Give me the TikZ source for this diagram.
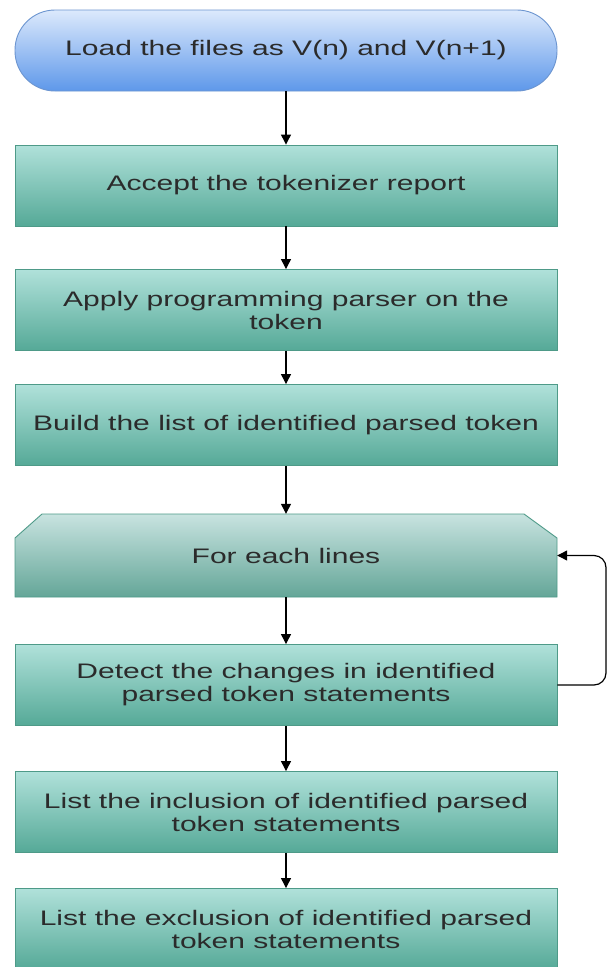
\documentclass[tikz,border=0pt]{standalone}
\usepackage{fontspec}
\setmainfont[FakeStretch=1.43]{Liberation Sans}
\usetikzlibrary{arrows.meta}
\definecolor{txt}{HTML}{2B2B2B}
\definecolor{termtop}{HTML}{DCE9FC}
\definecolor{termbot}{HTML}{5E98EA}
\definecolor{termline}{HTML}{6C95D0}
\definecolor{boxtop}{HTML}{B0E1DA}
\definecolor{boxbot}{HTML}{55A997}
\definecolor{boxline}{HTML}{4E9A88}
\definecolor{looptop}{HTML}{C8E3E0}
\definecolor{loopbot}{HTML}{64A698}
\tikzset{
  basetext/.style={text=txt, font=\fontsize{21}{23}\selectfont, align=center, inner sep=0pt},
  boxst/.style={basetext, rectangle, draw=boxline, line width=0.9pt, top color=boxtop, bottom color=boxbot, minimum width=542pt, minimum height=81pt},
  termst/.style={basetext, rectangle, rounded corners=40pt, draw=termline, line width=0.9pt, top color=termtop, bottom color=termbot, minimum width=542pt, minimum height=81pt},
  arr/.style={draw=black, line width=1.2pt, -{Triangle[width=10pt,length=10pt]}},
}
\begin{document}
\begin{tikzpicture}[x=1pt,y=-1pt]
\useasboundingbox[fill=white] (0,0) rectangle (608,967);
\node[termst] (t) at (286,50.5) {Load the files as V(n) and V(n+1)};
\node[boxst] (b1) at (286,185.5) {Accept the tokenizer report};
\node[boxst] (b2) at (286,310) {Apply programming parser on the\\token};
\node[boxst] (b3) at (286,425) {Build the list of identified parsed token};
% chamfered loop box
\path[draw=boxline, line width=0.9pt, top color=looptop, bottom color=loopbot]
  (15,538) -- (42,514) -- (524,514) -- (557,538) -- (557,597) -- (15,597) -- cycle;
\node[basetext, minimum width=542pt, minimum height=83pt] (fe) at (286,555.5) {For each lines};
\node[boxst] (b5) at (286,685) {Detect the changes in identified\\parsed token statements};
\node[boxst] (b6) at (286,812) {List the inclusion of identified parsed\\token statements};
\node[boxst] (b7) at (286,929) {List the exclusion of identified parsed\\token statements};
\draw[arr] (t) -- (b1);
\draw[arr] (b1) -- (b2);
\draw[arr] (b2) -- (b3);
\draw[arr] (b3) -- (fe);
\draw[arr] (fe) -- (b5);
\draw[arr] (b5) -- (b6);
\draw[arr] (b6) -- (b7);
\draw[arr, rounded corners=12pt] (b5.east) -- (606,685) -- (606,555.5) -- (fe.east);
\end{tikzpicture}
\end{document}
